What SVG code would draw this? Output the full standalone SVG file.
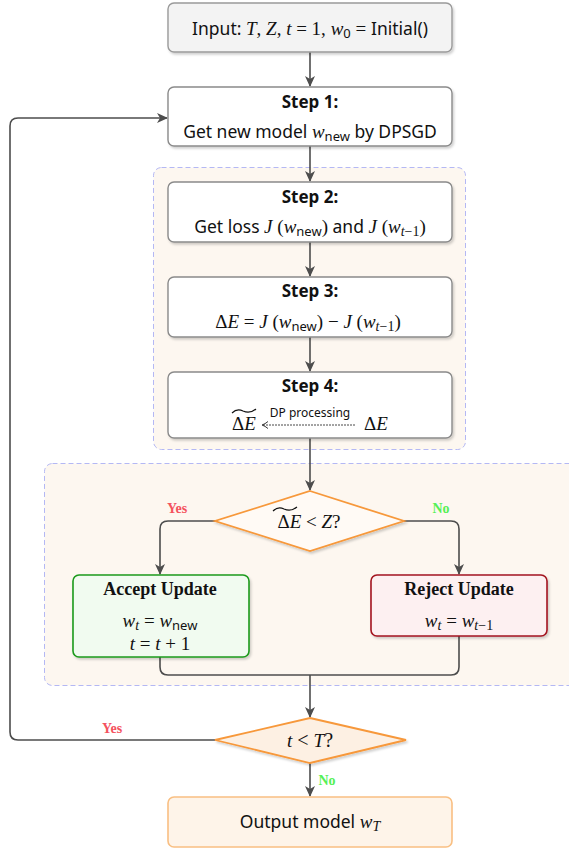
<svg xmlns="http://www.w3.org/2000/svg" width="569" height="850" viewBox="0 0 569 850">
  <defs>
    <marker id="arr" markerWidth="11" markerHeight="10" refX="10" refY="5" orient="auto" markerUnits="userSpaceOnUse">
      <path d="M0,0 L11,5 L0,10 L3,5 Z" fill="#4d4d4d"/>
    </marker>
    <marker id="arrSmall" markerWidth="8" markerHeight="8" refX="6.5" refY="4" orient="auto" markerUnits="userSpaceOnUse">
      <path d="M0.5,0.5 Q3.5,3 6.5,4 Q3.5,5 0.5,7.5" fill="none" stroke="#222" stroke-width="0.9"/>
    </marker>
    <filter id="shadow" x="-10%" y="-10%" width="130%" height="140%">
      <feDropShadow dx="1.5" dy="2" stdDeviation="1" flood-color="#000" flood-opacity="0.18"/>
    </filter>
  </defs>
  <style>
    .sans { font-family: "Noto Sans", "Open Sans", sans-serif; font-size: 17.5px; fill: #111; }
    .small { font-family: "Noto Sans", "Open Sans", sans-serif; font-size: 12px; fill: #111; }
    .serif { font-family: "Liberation Serif", "DejaVu Serif", serif; font-size: 19px; fill: #111; }
    .big { font-size: 20px; }
    .m { font-family: "Liberation Serif", "DejaVu Serif", serif; font-style: italic; font-size: 19px; }
    .up { font-family: "Liberation Serif", "DejaVu Serif", serif; font-style: normal; font-size: 19px; }
    .sub { font-family: "Noto Sans", sans-serif; font-style: normal; font-size: 13px; }
    .subm { font-family: "Liberation Serif", serif; font-style: italic; font-size: 14px; }
    .subn { font-family: "Liberation Serif", serif; font-style: normal; font-size: 14px; }
    .title { font-family: "Noto Sans", "Open Sans", sans-serif; font-weight: bold; font-size: 17px; fill: #111; }
    .btitle { font-family: "Liberation Serif", "DejaVu Serif", serif; font-weight: bold; font-size: 18px; fill: #111; }
    .box { fill: #ffffff; stroke: #8a8a8a; stroke-width: 1.4; filter: url(#shadow); }
    .cluster { fill: #fdf7f0; stroke: #b4b8f4; stroke-width: 1; stroke-dasharray: 5 3; }
    .diamond { stroke: #f7983a; stroke-width: 1.8; filter: url(#shadow); }
    .edge { fill: none; stroke: #4d4d4d; stroke-width: 1.6; marker-end: url(#arr); }
    .line { fill: none; stroke: #4d4d4d; stroke-width: 1.6; }
    .tilde { fill: none; stroke: #111; stroke-width: 1.1; }
    .yes { font-family: "Liberation Serif", serif; font-weight: bold; font-size: 14px; fill: #f4525e; }
    .no { font-family: "Liberation Serif", serif; font-weight: bold; font-size: 14px; fill: #55f055; }
  </style>

  <!-- background clusters -->
  <rect class="cluster" x="153.5" y="167.5" width="312" height="282" rx="8"/>
  <rect class="cluster" x="44.5" y="463.5" width="540" height="222" rx="8"/>

  <!-- connectors -->
  <g id="connectors">
    <path class="edge" d="M310,52 V86"/>
    <path class="edge" d="M310,146 V181"/>
    <path class="edge" d="M310,242 V276"/>
    <path class="edge" d="M310,337 V371"/>
    <path class="edge" d="M310,438 V490"/>
    <path class="edge" d="M215,521 H168 Q160,521 160,529 V574"/>
    <path class="edge" d="M404,521 H451 Q459,521 459,529 V574"/>
    <path class="line" d="M160,657 V667 Q160,675 168,675 H451 Q459,675 459,667 V636"/>
    <path class="edge" d="M310,675 V717"/>
    <path class="edge" d="M215,740 H18 Q10,740 10,732 V126 Q10,118 18,118 H167"/>
    <path class="edge" d="M310,763 V796"/>
    <text class="yes" x="177" y="513" text-anchor="middle">Yes</text>
    <text class="no" x="441" y="513" text-anchor="middle">No</text>
    <text class="yes" x="112" y="733" text-anchor="middle">Yes</text>
    <text class="no" x="327" y="785" text-anchor="middle">No</text>
  </g>

  <!-- input -->
  <g id="input">
    <rect x="168" y="3" width="284" height="49" rx="6" fill="#f3f3f3" stroke="#9a9a9a" stroke-width="1.4" filter="url(#shadow)"/>
    <text class="sans" x="310" y="35" text-anchor="middle">Input: <tspan class="m">T</tspan><tspan class="up">, </tspan><tspan class="m">Z</tspan><tspan class="up">, </tspan><tspan class="m">t</tspan><tspan class="up"> = 1, </tspan><tspan class="m">w</tspan><tspan class="sub" dy="3">0</tspan><tspan class="up" dy="-3"> = </tspan>Initial()</text>
  </g>

  <!-- step 1 -->
  <g id="step1">
    <rect class="box" x="168" y="87" width="284" height="59" rx="6"/>
    <text class="title" x="310" y="108" text-anchor="middle">Step 1:</text>
    <text class="sans" x="310" y="138" text-anchor="middle">Get new model <tspan class="m">w</tspan><tspan class="sub" dy="3">new</tspan><tspan dy="-3"> by DPSGD</tspan></text>
  </g>

  <!-- step 2 -->
  <g id="step2">
    <rect class="box" x="168" y="182" width="284" height="60" rx="6"/>
    <text class="title" x="310" y="203" text-anchor="middle">Step 2:</text>
    <text class="sans" x="310" y="233" text-anchor="middle">Get loss <tspan class="m">J</tspan><tspan class="up"> (</tspan><tspan class="m">w</tspan><tspan class="sub" dy="3">new</tspan><tspan class="up" dy="-3">)</tspan> and <tspan class="m">J</tspan><tspan class="up"> (</tspan><tspan class="m">w</tspan><tspan class="subm" dy="3">t</tspan><tspan class="subn">−1</tspan><tspan class="up" dy="-3">)</tspan></text>
  </g>

  <!-- step 3 -->
  <g id="step3">
    <rect class="box" x="168" y="277" width="284" height="60" rx="6"/>
    <text class="title" x="310" y="297" text-anchor="middle">Step 3:</text>
    <text class="serif" x="308" y="328" text-anchor="middle">Δ<tspan class="m">E</tspan> = <tspan class="m">J</tspan> (<tspan class="m">w</tspan><tspan class="sub" dy="3">new</tspan><tspan dy="-3">) − </tspan><tspan class="m">J</tspan> (<tspan class="m">w</tspan><tspan class="subm" dy="3">t</tspan><tspan class="subn">−1</tspan><tspan dy="-3">)</tspan></text>
  </g>

  <!-- step 4 -->
  <g id="step4">
    <rect class="box" x="168" y="372" width="284" height="66" rx="6"/>
    <text class="title" x="310" y="392" text-anchor="middle">Step 4:</text>
    <text class="serif" x="244" y="430" text-anchor="middle">Δ<tspan class="m">E</tspan></text>
    <path class="tilde" d="M232,413 Q237,408 243,411 Q250,414 256,409"/>
    <text class="serif" x="376" y="430" text-anchor="middle">Δ<tspan class="m">E</tspan></text>
    <line x1="355" y1="425" x2="262" y2="425" stroke="#333" stroke-width="0.9" stroke-dasharray="2 1" marker-end="url(#arrSmall)"/>
    <text class="small" x="310" y="417" text-anchor="middle">DP processing</text>
  </g>

  <!-- decision: noisy difference against threshold -->
  <g id="check-threshold">
    <polygon class="diamond" points="310,491 404,521 310,551 215,521" fill="#fffaf5"/>
    <text class="serif" x="309" y="528" text-anchor="middle">Δ<tspan class="m">E</tspan> &lt; <tspan class="m">Z</tspan>?</text>
    <path class="tilde" d="M273,511 Q278,506 284,509 Q291,512 297,507"/>
  </g>

  <!-- accept -->
  <g id="accept">
    <rect x="73" y="575" width="176" height="82" rx="6" fill="#f1fbf0" stroke="#1c9a1c" stroke-width="1.6" filter="url(#shadow)"/>
    <text class="btitle" x="160" y="595" text-anchor="middle">Accept Update</text>
    <text class="serif" x="160" y="627" text-anchor="middle"><tspan class="m">w</tspan><tspan class="subm" dy="3">t</tspan><tspan dy="-3"> = </tspan><tspan class="m">w</tspan><tspan class="sub" dy="3">new</tspan></text>
    <text class="serif" x="160" y="650" text-anchor="middle"><tspan class="m">t</tspan> = <tspan class="m">t</tspan> + 1</text>
  </g>

  <!-- reject -->
  <g id="reject">
    <rect x="371" y="575" width="176" height="61" rx="6" fill="#fdf0f1" stroke="#a3141f" stroke-width="1.6" filter="url(#shadow)"/>
    <text class="btitle" x="459" y="595" text-anchor="middle">Reject Update</text>
    <text class="serif" x="459" y="627" text-anchor="middle"><tspan class="m">w</tspan><tspan class="subm" dy="3">t</tspan><tspan dy="-3"> = </tspan><tspan class="m">w</tspan><tspan class="subm" dy="3">t</tspan><tspan class="subn">−1</tspan></text>
  </g>

  <!-- decision: iteration limit -->
  <g id="check-iterations">
    <polygon class="diamond" points="310,718 406,740 310,763 215,740" fill="#fdf0e3"/>
    <text class="serif big" x="310" y="747" text-anchor="middle"><tspan class="m big">t</tspan> &lt; <tspan class="m big">T</tspan>?</text>
  </g>

  <!-- output -->
  <g id="output">
    <rect x="168" y="797" width="284" height="50" rx="6" fill="#fef4e9" stroke="#f9bf82" stroke-width="1.6"/>
    <text class="sans" x="310" y="828" text-anchor="middle">Output model <tspan class="m">w</tspan><tspan class="subm" dy="3">T</tspan></text>
  </g>
</svg>
